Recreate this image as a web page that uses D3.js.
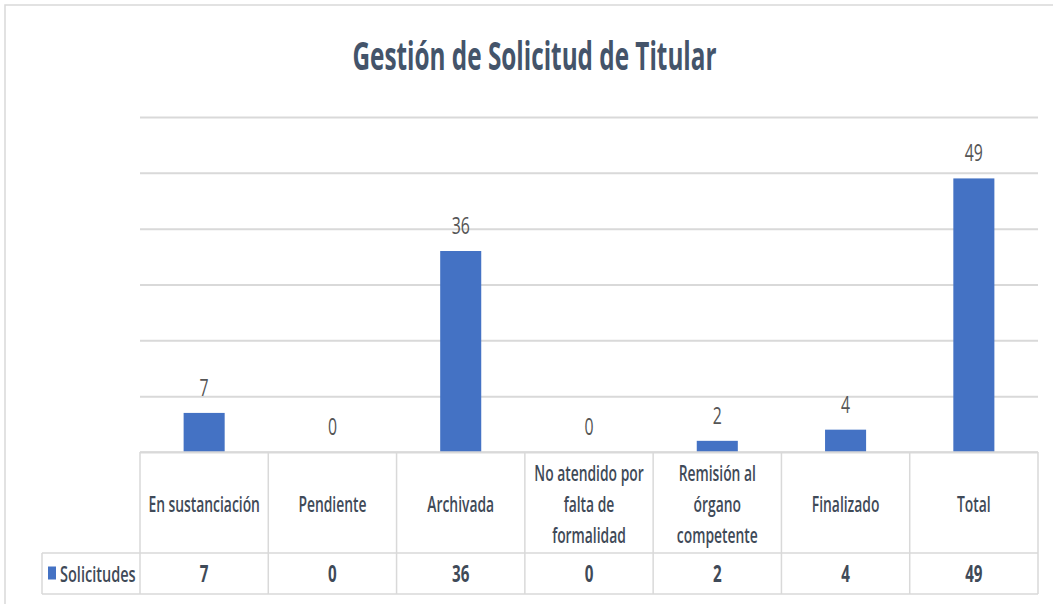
<!DOCTYPE html>
<html>
<head>
<meta charset="utf-8">
<script src="https://cdn.jsdelivr.net/npm/d3@7"></script>
<style>
  body { margin: 0; background: #fff; }
  svg { display: block; font-family: 'Open Sans', sans-serif; }
</style>
</head>
<body>
<div id="chart"></div>
<script>
// Chart data.
var categories = ['En sustanciación', 'Pendiente', 'Archivada',
  'No atendido por falta de formalidad', 'Remisión al órgano competente',
  'Finalizado', 'Total'];
// How each header cell wraps its label.
var headerLines = [['En sustanciación'], ['Pendiente'], ['Archivada'],
  ['No atendido por', 'falta de', 'formalidad'],
  ['Remisión al', 'órgano', 'competente'], ['Finalizado'], ['Total']];
var values = [7, 0, 36, 0, 2, 4, 49];
var yTicks = [0, 10, 20, 30, 40, 50, 60];
var seriesName = 'Solicitudes';
var title = 'Gestión de Solicitud de Titular';

// Dimensions.
var WIDTH = 1053;
var HEIGHT = 604;
var PLOT_LEFT = 140;
var PLOT_RIGHT = 1038;
var PLOT_TOP = 117;
var PLOT_BOTTOM = 452;
var ROW_SPLIT = 553;
var TABLE_BOTTOM = 594;
var LEGEND_LEFT = 42;

// Palette.
var BAR_COLOR = '#4472C4';
var GRID_COLOR = '#D9D9D9';
var TEXT_COLOR = '#3F4A58';
var LABEL_COLOR = '#555555';
var TITLE_COLOR = '#44546A';

// Horizontal squeeze for the narrow text of the original.
var SX = 0.66;

function main() {
  var svg = d3.select('#chart').append('svg')
    .attr('width', WIDTH)
    .attr('height', HEIGHT);

  // Chart frame (only top and left edges fall inside the picture).
  svg.append('rect')
    .attr('x', 5).attr('y', 5)
    .attr('width', WIDTH + 50).attr('height', HEIGHT + 50)
    .attr('fill', 'none')
    .attr('stroke', GRID_COLOR)
    .attr('stroke-width', 1.5);

  svg.append('text')
    .attr('x', WIDTH / 2 + 8)
    .attr('y', 70)
    .attr('text-anchor', 'middle')
    .attr('font-size', 40)
    .attr('font-weight', 700)
    .attr('fill', TITLE_COLOR)
    .attr('textLength', 364)
    .attr('lengthAdjust', 'spacingAndGlyphs')
    .text(title);

  var x = d3.scaleBand().domain(categories).range([PLOT_LEFT, PLOT_RIGHT]);
  var y = d3.scaleLinear().domain([0, 60]).range([PLOT_BOTTOM, PLOT_TOP]);

  // Gridlines.
  var grid = svg.append('g')
    .attr('class', 'grid')
    .attr('transform', 'translate(' + PLOT_LEFT + ',0)')
    .call(d3.axisLeft(y).tickValues(yTicks)
      .tickSize(-(PLOT_RIGHT - PLOT_LEFT)).tickFormat(''));
  grid.select('.domain').remove();
  grid.selectAll('line')
    .attr('stroke', GRID_COLOR)
    .attr('stroke-width', 2);

  // Bars.
  var barW = x.bandwidth() * 0.32;
  svg.selectAll('.bar')
    .data(values)
  .enter().append('rect')
    .attr('class', 'bar')
    .attr('x', function(d, i) { return x(categories[i]) + (x.bandwidth() - barW) / 2; })
    .attr('y', function(d) { return y(d); })
    .attr('width', barW)
    .attr('height', function(d) { return y(0) - y(d); })
    .attr('fill', BAR_COLOR);

  // Data labels.
  svg.selectAll('.label')
    .data(values)
  .enter().append('text')
    .attr('class', 'label')
    .attr('transform', function(d, i) {
      return 'translate(' + (x(categories[i]) + x.bandwidth() / 2) + ',' +
        (y(d) - 17) + ') scale(' + SX + ',1)';
    })
    .attr('text-anchor', 'middle')
    .attr('font-size', 24)
    .attr('font-weight', 400)
    .attr('fill', LABEL_COLOR)
    .text(function(d) { return d; });

  // Data table lines.
  var table = svg.append('g').attr('class', 'table')
    .attr('stroke', GRID_COLOR).attr('stroke-width', 1.5);
  table.append('line')
    .attr('x1', PLOT_LEFT).attr('x2', PLOT_RIGHT)
    .attr('y1', PLOT_BOTTOM).attr('y2', PLOT_BOTTOM);
  [ROW_SPLIT, TABLE_BOTTOM].forEach(function(yy) {
    table.append('line')
      .attr('x1', LEGEND_LEFT).attr('x2', PLOT_RIGHT)
      .attr('y1', yy).attr('y2', yy);
  });
  var edges = categories.map(function(c) { return x(c); }).concat([PLOT_RIGHT]);
  table.selectAll('.vline')
    .data(edges)
  .enter().append('line')
    .attr('x1', function(d) { return d; }).attr('x2', function(d) { return d; })
    .attr('y1', PLOT_BOTTOM).attr('y2', TABLE_BOTTOM);
  table.append('line')
    .attr('x1', LEGEND_LEFT).attr('x2', LEGEND_LEFT)
    .attr('y1', ROW_SPLIT).attr('y2', TABLE_BOTTOM);

  // Header labels.
  var LINE_H = 31;
  var headerMid = (PLOT_BOTTOM + ROW_SPLIT) / 2 + 2;
  categories.forEach(function(c, i) {
    var lines = headerLines[i];
    var cx = x(c) + x.bandwidth() / 2;
    lines.forEach(function(s, j) {
      var cy = headerMid + (j - (lines.length - 1) / 2) * LINE_H;
      svg.append('text')
        .attr('transform', 'translate(' + cx + ',' + (cy + 7.5) + ') scale(' + SX + ',1)')
        .attr('text-anchor', 'middle')
        .attr('font-size', 21)
        .attr('font-weight', 600)
        .attr('fill', TEXT_COLOR)
        .text(s);
    });
  });

  // Value row.
  var rowMid = (ROW_SPLIT + TABLE_BOTTOM) / 2;
  svg.selectAll('.cell')
    .data(values)
  .enter().append('text')
    .attr('class', 'cell')
    .attr('transform', function(d, i) {
      return 'translate(' + (x(categories[i]) + x.bandwidth() / 2) + ',' +
        (rowMid + 8.5) + ') scale(' + SX + ',1)';
    })
    .attr('text-anchor', 'middle')
    .attr('font-size', 23)
    .attr('font-weight', 700)
    .attr('fill', TEXT_COLOR)
    .text(function(d) { return d; });

  // Legend key in the row header.
  svg.append('rect')
    .attr('x', 48).attr('y', rowMid - 7)
    .attr('width', 8).attr('height', 13)
    .attr('fill', BAR_COLOR);
  svg.append('text')
    .attr('transform', 'translate(60,' + (rowMid + 8) + ') scale(' + SX + ',1)')
    .attr('font-size', 22)
    .attr('font-weight', 600)
    .attr('fill', TEXT_COLOR)
    .text(seriesName);
}

main();
</script>
</body>
</html>
